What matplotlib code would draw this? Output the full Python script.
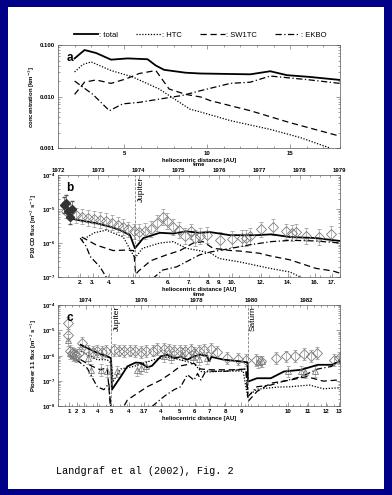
import numpy as np
import matplotlib.pyplot as plt
from matplotlib.patches import Rectangle
from matplotlib.lines import Line2D
from matplotlib.ticker import FixedLocator, FixedFormatter, NullFormatter, LogLocator, MultipleLocator

plt.rcParams['font.family'] = ['Liberation Sans', 'DejaVu Sans']

# ---- panel a: concentration vs heliocentric distance [AU]
a_total_r = [2.0, 2.6, 3.3, 4.2, 5.2, 6.4, 6.9, 7.4, 8.7, 9.6, 12.6, 13.8, 14.8, 16.2, 18.0]
a_total = [0.055, 0.080, 0.070, 0.052, 0.055, 0.053, 0.040, 0.033, 0.029, 0.028, 0.027, 0.031, 0.026, 0.024, 0.021]
a_htc_r = [2.0, 2.5, 3.0, 4.2, 5.5, 7.1, 8.95, 9.6, 11.4, 13.8, 15.6, 17.4]
a_htc = [0.030, 0.042, 0.047, 0.032, 0.024, 0.014, 0.0057, 0.0050, 0.0034, 0.0023, 0.0016, 0.001]
a_sw1_r = [2.0, 2.6, 3.3, 4.2, 5.1, 5.9, 6.9, 7.7, 8.7, 9.6, 10.2, 12.6, 15.0, 18.0]
a_sw1 = [0.011, 0.019, 0.021, 0.018, 0.022, 0.028, 0.032, 0.014, 0.011, 0.0098, 0.0083, 0.0053, 0.0031, 0.0017]
a_ekbo_r = [2.0, 3.1, 4.1, 4.9, 5.9, 7.1, 8.5, 9.6, 11.4, 12.6, 13.8, 16.2, 18.0]
a_ekbo = [0.020, 0.011, 0.0053, 0.0072, 0.0077, 0.0089, 0.0105, 0.013, 0.018, 0.019, 0.025, 0.021, 0.018]

# ---- panel b: Pioneer 10, time axis
b_years = [1972, 1973, 1974, 1975, 1976, 1977, 1978, 1979]
b_dist_labels = ['2.', '3.', '4.', '5.', '6.', '7.', '8.', '9.', '10.', '12.', '14.', '16.', '17.']
b_dist_times = [1972.55, 1972.86, 1973.27, 1973.86, 1974.75, 1975.25, 1975.72, 1976.0,
                1976.32, 1977.04, 1977.71, 1978.38, 1978.8]
b_jupiter = 1973.92

b_fill_t = [1972.15, 1972.2, 1972.25, 1972.3, 1972.35]
b_fill_f = [1.3e-5, 1.5e-5, 9e-6, 6e-6, 1.0e-5]
b_t = [1972.2, 1972.3, 1972.45, 1972.6, 1972.75, 1972.9, 1973.05, 1973.2, 1973.35, 1973.5,
       1973.62, 1973.75, 1973.88, 1974.0, 1974.15, 1974.3, 1974.45, 1974.6, 1974.7, 1974.85,
       1975.0, 1975.15, 1975.3, 1975.4, 1975.52, 1975.69, 1976.02, 1976.33, 1976.58, 1976.68,
       1976.76, 1977.05, 1977.34, 1977.67, 1977.82, 1977.9, 1978.17, 1978.48, 1978.79]
b_f = [9e-6, 8e-6, 6.5e-6, 6e-6, 5.5e-6, 5e-6, 4.8e-6, 4.5e-6, 4e-6, 3.5e-6,
       3e-6, 2.5e-6, 2.2e-6, 2.1e-6, 2.3e-6, 2.6e-6, 3.8e-6, 5.9e-6, 4.5e-6, 3e-6,
       2.4e-6, 1.6e-6, 2.2e-6, 1.4e-6, 1.6e-6, 1.7e-6, 1.2e-6, 1.3e-6, 1.4e-6, 1.4e-6,
       1.6e-6, 2.5e-6, 2.9e-6, 2.2e-6, 2.0e-6, 2.1e-6, 1.6e-6, 1.5e-6, 1.9e-6]

b_total_t = [1972.3, 1972.6, 1972.96, 1973.3, 1973.54, 1973.79, 1973.91, 1974.12, 1974.53, 1974.86,
             1975.19, 1975.5, 1975.77, 1976.27, 1976.93, 1977.3, 1977.76, 1978.4, 1979.0]
b_total = [5.3e-6, 4.5e-6, 3.8e-6, 3.0e-6, 2.4e-6, 1.7e-6, 7e-7, 1.4e-6, 2.0e-6, 1.9e-6,
           2.2e-6, 2.0e-6, 2.1e-6, 1.7e-6, 1.7e-6, 1.8e-6, 1.5e-6, 1.4e-6, 1.15e-6]
b_htc_t = [1972.59, 1972.9, 1973.2, 1973.62, 1973.91, 1974.1, 1974.53, 1974.86, 1975.19, 1975.5,
           1975.8, 1976.0, 1976.5, 1977.26, 1977.76, 1978.1]
b_htc = [1.2e-6, 2.0e-6, 2.4e-6, 1.5e-6, 3.6e-7, 7e-7, 1.0e-6, 1.1e-6, 7e-7, 6e-7,
         5e-7, 3.5e-7, 2.8e-7, 1.8e-7, 1.4e-7, 9e-8]
b_sw1_t = [1972.59, 1972.96, 1973.37, 1973.7, 1973.88, 1973.93, 1974.0, 1974.3, 1974.7, 1975.03,
           1975.36, 1975.6, 1975.85, 1976.3, 1976.52, 1977.0, 1977.26, 1977.76, 1978.4, 1978.83, 1979.0]
b_sw1 = [1.5e-6, 8.6e-7, 6e-7, 6.2e-7, 6e-7, 1.2e-7, 1.5e-7, 3e-7, 4.5e-7, 6e-7,
         1.0e-6, 1.1e-6, 7e-7, 6e-7, 5.8e-7, 5e-7, 4.2e-7, 3.2e-7, 1.8e-7, 1.5e-7, 1.3e-7]
b_ekbo_t = [1972.55, 1972.7, 1972.8, 1973.04, 1973.22, np.nan, 1974.35, 1974.6, 1974.95, 1975.28,
            1975.52, 1975.8, 1976.0, 1976.3, 1976.8, 1977.3, 1977.8, 1978.4, 1979.0]
b_ekbo = [1.4e-6, 8e-7, 4e-7, 2e-7, 9e-8, np.nan, 9e-8, 1.6e-7, 2e-7, 3.2e-7,
          4.5e-7, 5.5e-7, 6e-7, 7e-7, 9e-7, 1.1e-6, 1.2e-6, 1.15e-6, 1.0e-6]

# ---- panel c: Pioneer 11, time axis
c_years = [1974, 1976, 1978, 1980, 1982]
c_dist_labels = ['1', '2', '3', '4', '5', '4', '3.7', '4', '5', '6', '7', '8', '9', '10', '11', '12', '13']
c_dist_times = [1973.4, 1973.67, 1973.94, 1974.42, 1974.93, 1975.57, 1976.11, 1976.72, 1977.38,
                1977.95, 1978.47, 1979.05, 1979.62, 1981.31, 1982.03, 1982.7, 1983.18]
c_jupiter = 1974.93
c_saturn = 1979.87

c_d_t = [1973.35, 1973.35, 1973.42, 1973.5, 1973.58, 1973.66, 1973.75, 1973.88, 1974.1, 1974.25,
         1974.42, 1974.58, 1974.72, 1975.03, 1975.2, 1975.4, 1975.6, 1975.8, 1976.0, 1976.2,
         1976.45, 1976.6, 1976.84, 1977.0, 1977.2, 1977.4, 1977.6, 1977.8, 1977.92, 1978.1,
         1978.29, 1978.53, 1978.77, 1979.13, 1979.5, 1979.8, 1980.16, 1980.34, 1980.88, 1981.25,
         1981.56, 1981.91, 1982.15, 1982.36, 1982.98, 1983.16]
c_d = [1.9e-5, 6.7e-6, 1.5e-6, 1.3e-6, 1.2e-6, 1.1e-6, 1.3e-6, 3.2e-6, 1.6e-6, 1.4e-6,
       1.5e-6, 1.4e-6, 1.5e-6, 1.7e-6, 1.6e-6, 1.5e-6, 1.6e-6, 1.5e-6, 1.4e-6, 1.5e-6,
       1.6e-6, 1.8e-6, 1.9e-6, 1.7e-6, 1.6e-6, 1.5e-6, 1.6e-6, 1.7e-6, 1.3e-6, 1.5e-6,
       1.7e-6, 1.8e-6, 1.4e-6, 8e-7, 7.5e-7, 7e-7, 7e-7, 6e-7, 8e-7, 9.4e-7,
       1e-6, 1.2e-6, 1e-6, 1.3e-6, 7e-7, 8e-7]
c_tri_t = [1973.35, 1973.45, 1973.55, 1973.65, 1974.1, 1974.18, 1974.54, 1974.78, 1975.15, 1975.87,
           1976.0, 1976.2, 1976.84, 1977.1, 1977.5, 1977.9, 1978.1, 1978.4, 1980.24, 1980.4,
           1981.31, 1981.8, 1981.95, 1982.31]
c_tri = [4.3e-6, 1.3e-6, 1.1e-6, 9.3e-7, 8e-7, 2.8e-7, 2.8e-7, 2.5e-7, 2.4e-7, 2.8e-7,
         3.2e-7, 3.8e-7, 1e-6, 9e-7, 1.2e-6, 9e-7, 7.5e-7, 8e-7, 5.5e-7, 6e-7,
         2.4e-7, 2.4e-7, 2.2e-7, 2.4e-7]

c_total_t = [1973.82, 1974.06, 1974.42, 1974.78, 1974.92, 1974.95, 1975.27, 1975.51, 1975.81, 1976.0,
             1976.23, 1976.4, 1976.72, 1976.96, 1977.2, 1977.45, 1977.68, 1977.92, 1978.16, 1978.4,
             1978.47, 1978.55, 1979.0, 1979.6, 1979.86, 1979.88, 1980.2, 1980.7, 1981.18, 1981.8,
             1982.4, 1982.9, 1983.2]
c_total = [2.7e-6, 2.0e-6, 1.3e-6, 9.5e-7, 8e-7, 4.6e-8, 1.5e-7, 3.8e-7, 5.4e-7, 5.2e-7,
           3.5e-7, 4e-7, 9.5e-7, 1.1e-6, 8e-7, 9e-7, 7e-7, 9.5e-7, 1.1e-6, 1.0e-6,
           6e-7, 9e-7, 7e-7, 6e-7, 5.5e-7, 9.6e-8, 1.3e-7, 1.3e-7, 2.4e-7, 2.8e-7,
           4.4e-7, 4.4e-7, 6e-7]
c_htc_t = [1973.82, 1974.42, 1974.78, 1974.93, 1975.0, 1975.27, 1975.75, 1976.47, 1976.96, 1977.4,
           1977.92, 1978.17, 1978.5, 1979.0, 1979.7, 1979.86, 1980.2, 1980.95, 1981.4, 1982.1,
           1982.6, 1983.2]
c_htc = [1.5e-6, 7e-7, 7e-7, 5e-7, 1e-7, 3e-7, 3.8e-7, 7e-7, 9e-7, 7e-7,
         5e-7, 2.4e-7, 2.3e-7, 2.5e-7, 2.5e-7, 2.5e-8, 4.8e-8, 5.8e-8, 6e-8, 7e-8,
         5e-8, 5.5e-8]
c_sw1_t = [1973.82, 1974.2, 1974.54, 1974.78, 1974.92, np.nan, 1975.4, 1975.51, 1975.87, 1976.23,
           1976.72, 1977.08, 1977.44, 1977.68, 1977.92, 1978.16, 1978.5, 1979.3, 1979.8, 1979.88,
           1980.2, 1980.7, 1981.4, 1982.0, 1982.6, 1983.1]
c_sw1 = [7e-7, 4e-7, 2.8e-7, 3.4e-7, 5e-9, np.nan, 1.1e-8, 1.8e-8, 3.3e-8, 6e-8,
         1.1e-7, 2e-7, 4e-7, 4.5e-7, 5e-7, 3e-7, 2.8e-7, 2.8e-7, 3e-7, 1.6e-8,
         3.9e-8, 8.3e-8, 1.1e-7, 1.5e-7, 1e-7, 1.1e-7]
c_ekbo_t = [1973.67, 1974.06, 1974.42, 1974.66, 1974.84, 1974.93, np.nan, 1976.4, 1976.84, 1977.2,
            1977.44, 1977.68, 1977.92, 1978.05, 1978.17, 1978.35, 1979.0, 1979.8, 1979.88, 1980.2,
            1980.7, 1981.18, 1981.8, 1982.4, 1982.9, 1983.2]
c_ekbo = [7e-7, 3.2e-7, 6e-8, 4.6e-8, 8e-8, 5e-9, np.nan, 1e-8, 2.5e-8, 4.6e-8,
          6e-8, 1.8e-7, 1.1e-7, 2e-7, 1.1e-7, 2.5e-7, 2.4e-7, 3e-7, 2.5e-8, 6e-8,
          7e-8, 1e-7, 1.5e-7, 3e-7, 3.8e-7, 7e-7]

ERR = 1.7  # error bar factor (log symmetric)

STY = {
    'total': dict(color='black', lw=1.3, ls='-'),
    'htc': dict(color='black', lw=0.9, ls=(0, (1, 1.3))),
    'sw1': dict(color='black', lw=0.9, ls=(0, (5, 3))),
    'ekbo': dict(color='black', lw=0.9, ls=(0, (5, 2, 1, 2))),
}
TICK_FS = 4.3
LAB_FS = 4.3


def style_axes(ax):
    for s in ax.spines.values():
        s.set_linewidth(0.5)
        s.set_color('#555555')
    ax.tick_params(which='both', direction='in', top=True, right=True, width=0.4,
                   colors='#555555', labelcolor='black', labelsize=TICK_FS, pad=2)
    ax.tick_params(which='major', length=3)
    ax.tick_params(which='minor', length=1.5)
    for lab in ax.get_xticklabels() + ax.get_yticklabels():
        lab.set_fontweight('bold')


def log_y(ax, lo, hi):
    ax.set_yscale('log')
    ax.set_ylim(lo, hi)
    ax.yaxis.set_minor_locator(LogLocator(base=10, subs=np.arange(2, 10)))
    ax.yaxis.set_minor_formatter(NullFormatter())


def data_points(ax, t, f, marker, ms):
    t = np.array(t)
    f = np.array(f)
    ax.errorbar(t, f, yerr=[f - f / ERR, f * ERR - f], fmt=marker, ms=ms, mfc='none',
                mec='#7a7a7a', mew=0.6, ecolor='#a0a0a0', elinewidth=0.5, capsize=1.4,
                capthick=0.5, zorder=2)


def time_axis(ax, t0, t1, years, dist_times, dist_labels):
    ax.set_xlim(t0, t1)
    ax.xaxis.set_major_locator(FixedLocator(dist_times))
    ax.xaxis.set_major_formatter(FixedFormatter(dist_labels))
    ax.xaxis.set_minor_locator(MultipleLocator(0.25))
    top = ax.twiny()
    top.set_xlim(t0, t1)
    top.xaxis.set_major_locator(FixedLocator(years))
    top.xaxis.set_major_formatter(FixedFormatter([str(y) for y in years]))
    top.xaxis.set_minor_locator(MultipleLocator(0.25))
    top.tick_params(which='both', direction='in', width=0.4, colors='#555555',
                    labelcolor='black', labelsize=TICK_FS, pad=1.5)
    top.tick_params(which='major', length=3)
    top.tick_params(which='minor', length=1.5)
    for lab in top.get_xticklabels():
        lab.set_fontweight('bold')
    for s in top.spines.values():
        s.set_visible(False)
    top.set_xlabel('time', fontsize=LAB_FS, fontweight='bold', labelpad=1.5)
    return top


def main():
    fig = plt.figure(figsize=(3.92, 4.95), dpi=100)
    fig.patch.set_facecolor('#000088')
    fig.patches.append(Rectangle((8 / 392, 1 - 489 / 495), 376 / 392, 482 / 495,
                                 transform=fig.transFigure, facecolor='white',
                                 edgecolor='none', zorder=-10))

    L, W = 0.148, 0.719
    ax_a = fig.add_axes([L, 0.701, W, 0.208])
    ax_b = fig.add_axes([L, 0.4404, W, 0.206])
    ax_c = fig.add_axes([L, 0.1788, W, 0.205])

    # ---- panel a
    ax_a.plot(a_total_r, a_total, **STY['total'])
    ax_a.plot(a_htc_r, a_htc, **STY['htc'])
    ax_a.plot(a_sw1_r, a_sw1, **STY['sw1'])
    ax_a.plot(a_ekbo_r, a_ekbo, **STY['ekbo'])
    ax_a.set_xlim(1, 18)
    log_y(ax_a, 0.001, 0.1)
    ax_a.yaxis.set_major_locator(FixedLocator([0.001, 0.01, 0.1]))
    ax_a.yaxis.set_major_formatter(FixedFormatter(['0.001', '0.010', '0.100']))
    ax_a.xaxis.set_major_locator(FixedLocator([5, 10, 15]))
    ax_a.xaxis.set_minor_locator(MultipleLocator(1))
    style_axes(ax_a)
    ax_a.set_xlabel('heliocentric distance [AU]', fontsize=LAB_FS, fontweight='bold', labelpad=1.5)
    ax_a.set_ylabel('concentration [km$^{-3}$]', fontsize=LAB_FS, fontweight='bold', labelpad=2)
    ax_a.text(0.03, 0.93, 'a', transform=ax_a.transAxes, fontsize=8.5, fontweight='bold',
              va='top', ha='left')

    handles = [Line2D([], [], **STY[k]) for k in ['total', 'htc', 'sw1', 'ekbo']]
    fig.legend(handles, [': total', ': HTC', ': SW1TC', ': EKBO'], loc='center',
               bbox_to_anchor=(0.51, 0.929), ncol=4, frameon=False, fontsize=5.5,
               handlelength=3.2, handletextpad=0.15, columnspacing=2.4)

    # ---- panel b
    bf = np.array(b_fill_f)
    ax_b.errorbar(b_fill_t, bf, yerr=[bf - bf / ERR, bf * ERR - bf],
                  fmt='D', ms=4.2, color='#333333', ecolor='#555555', elinewidth=0.5,
                  capsize=1.4, zorder=3)
    data_points(ax_b, b_t, b_f, 'D', 4.8)
    ax_b.plot(b_total_t, b_total, **STY['total'])
    ax_b.plot(b_htc_t, b_htc, **STY['htc'])
    ax_b.plot(b_sw1_t, b_sw1, **STY['sw1'])
    ax_b.plot(b_ekbo_t, b_ekbo, **STY['ekbo'])
    ax_b.axvline(b_jupiter, color='#666666', lw=0.5, ls=(0, (4, 2)))
    ax_b.text(b_jupiter + 0.07, 9e-5, 'Jupiter', rotation=90, fontsize=6, va='top', ha='left')
    log_y(ax_b, 1e-7, 1e-4)
    ax_b.yaxis.set_major_locator(LogLocator(base=10, numticks=10))
    time_axis(ax_b, 1972.0, 1979.0, b_years, b_dist_times, b_dist_labels)
    style_axes(ax_b)
    ax_b.tick_params(axis='x', which='both', top=False)
    ax_b.set_xlabel('heliocentric distance [AU]', fontsize=LAB_FS, fontweight='bold', labelpad=1.5)
    ax_b.set_ylabel('P10 CD flux [m$^{-2}$ s$^{-1}$]', fontsize=LAB_FS, fontweight='bold', labelpad=2)
    ax_b.text(0.03, 0.93, 'b', transform=ax_b.transAxes, fontsize=8.5, fontweight='bold',
              va='top', ha='left')

    # ---- panel c
    data_points(ax_c, c_d_t, c_d, 'D', 4.8)
    data_points(ax_c, c_tri_t, c_tri, '^', 5.0)
    ax_c.plot(c_total_t, c_total, **STY['total'])
    ax_c.plot(c_htc_t, c_htc, **STY['htc'])
    ax_c.plot(c_sw1_t, c_sw1, **STY['sw1'])
    ax_c.plot(c_ekbo_t, c_ekbo, **STY['ekbo'])
    for t, name in [(c_jupiter, 'Jupiter'), (c_saturn, 'Saturn')]:
        ax_c.axvline(t, color='#666666', lw=0.5, ls=(0, (4, 2)))
        ax_c.text(t + 0.08, 9e-5, name, rotation=90, fontsize=6, va='top', ha='left')
    log_y(ax_c, 1e-8, 1e-4)
    ax_c.yaxis.set_major_locator(LogLocator(base=10, numticks=10))
    time_axis(ax_c, 1973.0, 1983.2, c_years, c_dist_times, c_dist_labels)
    style_axes(ax_c)
    ax_c.tick_params(axis='x', which='both', top=False)
    ax_c.set_xlabel('heliocentric distance [AU]', fontsize=LAB_FS, fontweight='bold', labelpad=1.5)
    ax_c.set_ylabel('Pioneer 11 flux [m$^{-2}$ s$^{-1}$]', fontsize=LAB_FS, fontweight='bold', labelpad=2)
    ax_c.text(0.03, 0.93, 'c', transform=ax_c.transAxes, fontsize=8.5, fontweight='bold',
              va='top', ha='left')

    fig.text(56 / 392, 1 - 471 / 495, 'Landgraf et al (2002), Fig. 2', family='Liberation Mono',
             fontsize=7.3, va='center', ha='left')

    fig.savefig('out.png', dpi=100, facecolor=fig.get_facecolor())


if __name__ == "__main__":
    main()
